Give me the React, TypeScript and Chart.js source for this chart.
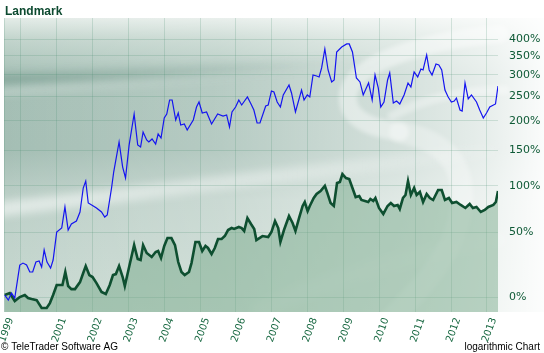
import { useEffect, useRef } from 'react';
import { Chart, registerables } from 'chart.js';

Chart.register(...registerables);

const TITLE = 'Landmark';
const CREDIT = '© TeleTrader Software AG';
const SCALE_NOTE = 'logarithmic Chart';

const X_START = 1999.53;
const X_END = 2013.31;
const xTickValues = [1999.53, 2000, 2001, 2002, 2003, 2004, 2005, 2006, 2007, 2008, 2009, 2010, 2011, 2012, 2013];
const xTickLabels = ['1999', '', '2001', '2002', '2003', '2004', '2005', '2006', '2007', '2008', '2009', '2010', '2011', '2012', '2013'];
const yTickPct = [0, 50, 100, 150, 200, 250, 300, 350, 400];
const Y_MIN_PCT = -8.9;
const Y_MAX_PCT = 470;

const blueDates = [1999.55,1999.65,1999.74,1999.83,1999.97,2000.06,2000.16,2000.25,2000.33,2000.42,
2000.51,2000.58,2000.65,2000.73,2000.83,2000.90,2001.00,2001.14,2001.23,2001.32,
2001.41,2001.55,2001.65,2001.74,2001.81,2001.88,2002.02,2002.11,2002.25,2002.34,
2002.41,2002.53,2002.59,2002.74,2002.84,2002.92,2003.02,2003.16,2003.26,2003.34,
2003.41,2003.51,2003.57,2003.66,2003.76,2003.83,2003.91,2004.00,2004.07,2004.15,
2004.22,2004.32,2004.39,2004.46,2004.56,2004.64,2004.81,2004.90,2004.97,2005.06,
2005.18,2005.32,2005.49,2005.64,2005.74,2005.82,2005.89,2005.99,2006.08,2006.16,
2006.32,2006.42,2006.50,2006.59,2006.67,2006.83,2006.90,2006.99,2007.06,2007.15,
2007.24,2007.32,2007.48,2007.55,2007.66,2007.83,2007.90,2007.99,2008.06,2008.15,
2008.25,2008.32,2008.39,2008.48,2008.57,2008.67,2008.74,2008.81,2008.95,2009.09,
2009.16,2009.25,2009.36,2009.46,2009.55,2009.70,2009.80,2009.88,2009.97,2010.04,
2010.13,2010.23,2010.29,2010.39,2010.48,2010.57,2010.69,2010.80,2010.88,2010.97,
2011.07,2011.16,2011.22,2011.32,2011.39,2011.47,2011.58,2011.66,2011.74,2011.83,
2011.92,2012.01,2012.09,2012.15,2012.25,2012.31,2012.39,2012.48,2012.57,2012.71,
2012.80,2012.90,2012.99,2013.08,2013.24,2013.31];

const bluePct = [1.3,-1.9,2.5,-0.6,22.1,23.6,22.1,16.9,16.9,24.4,
25.2,20.6,34.1,24.4,19.8,26.0,50.0,53.8,75.4,51.9,
57.7,60.7,70.0,97.4,106.2,79.8,76.5,74.3,70.0,64.7,
66.8,97.4,118.1,163.0,125.0,110.1,158,213.2,158.1,154.9,
180.0,166.3,163.0,168.0,159.8,176.5,169.7,205.5,213.2,241.8,
241.8,201.7,215.2,192.4,194.3,183.5,201.7,227.2,237.6,215.2,
217.2,194.3,213.2,209.3,211.3,188.8,217.2,227.2,241.8,231.3,
248.3,233.4,221.1,196.1,196.1,229.3,231.3,261.6,259.3,237.6,
227.2,252.7,275.4,257.1,217.2,263.8,241.8,252.7,248.3,299.5,
297.0,294.6,317.4,369.9,312.2,282.5,287.3,361.2,375.8,384.8,
384.8,361.2,292.1,282.5,252.7,280.1,241.8,299.5,268.4,227.2,
237.6,287.3,304.5,235.5,239.7,233.4,252.7,280.1,270.7,307.1,
294.6,314.8,312.2,352.7,312.2,299.5,327.9,325.2,312.2,263.8,
248.3,237.6,239.7,246.1,221.1,219.1,280.1,244.0,252.7,237.6,
221.1,205.5,215.2,227.2,233.4,273.0];

const greenDates = [1999.55,1999.69,1999.83,1999.97,2000.11,2000.20,2000.30,2000.44,2000.58,2000.72,
2000.81,2000.90,2001.00,2001.16,2001.24,2001.32,2001.41,2001.51,2001.65,2001.74,
2001.81,2001.91,2002.00,2002.11,2002.25,2002.37,2002.48,2002.57,2002.65,2002.74,
2002.84,2002.90,2003.02,2003.16,2003.26,2003.34,2003.41,2003.51,2003.65,2003.76,
2003.83,2003.91,2004.00,2004.09,2004.20,2004.30,2004.39,2004.48,2004.57,2004.69,
2004.76,2004.87,2004.97,2005.06,2005.15,2005.22,2005.32,2005.41,2005.50,2005.60,
2005.69,2005.78,2005.88,2005.95,2006.08,2006.16,2006.23,2006.32,2006.42,2006.51,
2006.57,2006.74,2006.90,2006.99,2007.09,2007.18,2007.24,2007.34,2007.48,2007.58,
2007.66,2007.76,2007.86,2007.92,2008.00,2008.06,2008.17,2008.25,2008.36,2008.48,
2008.54,2008.64,2008.73,2008.82,2008.90,2008.97,2009.07,2009.16,2009.25,2009.34,
2009.44,2009.50,2009.60,2009.69,2009.75,2009.83,2009.89,2009.99,2010.11,2010.23,
2010.32,2010.41,2010.51,2010.57,2010.66,2010.73,2010.80,2010.88,2010.97,2011.04,
2011.13,2011.22,2011.32,2011.41,2011.50,2011.64,2011.74,2011.83,2011.94,2012.03,
2012.15,2012.27,2012.40,2012.52,2012.61,2012.71,2012.83,2012.94,2013.04,2013.18,
2013.25,2013.31];

const greenPct = [1.3,2.5,-2.5,0,1.3,-0.6,-1.2,-1.9,-6.6,-6.6,
-3.7,1.3,7.8,7.8,16.9,7.1,5.1,5.1,9.8,16.2,
21.3,14.7,13.3,9.1,3.2,1.9,7.8,14.7,15.4,21.3,
13.3,7.1,20.6,38.3,26.8,26.0,38.3,31.6,28.4,32.4,
33.3,27.6,37.5,44.5,44.5,38.3,24.4,16.9,14.7,16.9,
23.6,41.0,41.0,33.3,37.5,35.8,30.8,35.8,43.6,43.6,
46.3,51.9,53.8,52.9,54.8,53.8,51.0,63.7,57.7,52.9,
42.7,46.3,45.4,50.0,60.7,53.8,41.0,51.9,65.8,58.7,
51.0,63.7,76.5,80.9,71.0,76.5,85.5,90.2,93.8,100,
92.6,79.8,76.5,103.7,105.0,115.4,110.1,108.8,97.4,86.6,
87.8,83.2,82.1,80.9,84.3,82.1,85.5,74.3,67.9,76.5,
79.8,76.5,77.6,73.2,85.5,89.0,106.2,89.0,97.4,89.0,
92.6,80.9,90.2,85.5,83.2,95.0,95.0,83.2,85.5,79.8,
80.9,77.6,74.3,78.7,74.3,75.4,70.0,72.1,75.4,77.6,
80.9,93.8];

const toPoints = (dates: number[], pct: number[]) =>
  dates.map((d, i) => ({ x: d, y: 1 + pct[i] / 100 }));

const backgroundPlugin = {
  id: 'ttBackground',
  beforeDraw(chart: any) {
    const { ctx, chartArea: a, width, height } = chart;
    const h = a.bottom - a.top;
    ctx.save();
    ctx.fillStyle = '#ffffff';
    ctx.fillRect(0, 0, width, height);

    ctx.beginPath();
    ctx.rect(a.left, a.top, width - a.left, h);
    ctx.clip();

    const vg = ctx.createLinearGradient(0, a.top, 0, a.bottom);
    vg.addColorStop(0, '#e4ece8');
    vg.addColorStop(0.07, '#c3d5cd');
    vg.addColorStop(0.2, '#a5bfb5');
    vg.addColorStop(0.45, '#a4beb4');
    vg.addColorStop(0.62, '#bdd0c8');
    vg.addColorStop(1, '#c8d9d1');
    ctx.fillStyle = vg;
    ctx.fillRect(a.left, a.top, width - a.left, h);

    const hg = ctx.createLinearGradient(a.left, 0, width, 0);
    hg.addColorStop(0, 'rgba(255,255,255,0)');
    hg.addColorStop(0.4, 'rgba(255,255,255,0.2)');
    hg.addColorStop(0.75, 'rgba(255,255,255,0.55)');
    hg.addColorStop(0.9, 'rgba(255,255,255,0.75)');
    hg.addColorStop(1, 'rgba(255,255,255,0.95)');
    ctx.fillStyle = hg;
    ctx.fillRect(a.left, a.top, width - a.left, h);

    ctx.filter = 'blur(4px)';
    const db = ctx.createLinearGradient(a.left, 0, 380, 0);
    db.addColorStop(0, 'rgba(80,125,110,0.35)');
    db.addColorStop(1, 'rgba(80,125,110,0)');
    ctx.strokeStyle = db;
    ctx.lineWidth = 10;
    ctx.beginPath();
    ctx.moveTo(a.left - 10, 80);
    ctx.quadraticCurveTo(200, 72, 380, 60);
    ctx.stroke();

    const ls = ctx.createLinearGradient(a.left, 0, 320, 0);
    ls.addColorStop(0, 'rgba(255,255,255,0.4)');
    ls.addColorStop(1, 'rgba(255,255,255,0)');
    ctx.strokeStyle = ls;
    ctx.lineWidth = 5;
    ctx.beginPath();
    ctx.moveTo(a.left - 10, 92);
    ctx.quadraticCurveTo(150, 84, 320, 70);
    ctx.stroke();

    const ms = ctx.createLinearGradient(a.left, 0, a.right, 0);
    ms.addColorStop(0, 'rgba(255,255,255,0.55)');
    ms.addColorStop(0.6, 'rgba(255,255,255,0.32)');
    ms.addColorStop(1, 'rgba(255,255,255,0.08)');
    ctx.strokeStyle = ms;
    ctx.lineWidth = 14;
    ctx.beginPath();
    ctx.moveTo(a.left - 10, 210);
    ctx.quadraticCurveTo(250, 180, a.right, 150);
    ctx.stroke();

    // S-like logo swoosh
    ctx.filter = 'blur(2px)';
    ctx.lineCap = 'round';
    ctx.strokeStyle = 'rgba(255,255,255,0.42)';
    ctx.lineWidth = 18;
    ctx.beginPath();
    ctx.moveTo(500, 34);
    ctx.bezierCurveTo(430, 40, 345, 62, 348, 100);
    ctx.bezierCurveTo(350, 125, 385, 130, 400, 132);
    ctx.stroke();
    ctx.strokeStyle = 'rgba(255,255,255,0.3)';
    ctx.lineWidth = 22;
    ctx.beginPath();
    ctx.moveTo(400, 132);
    ctx.bezierCurveTo(440, 140, 462, 160, 462, 195);
    ctx.bezierCurveTo(462, 245, 425, 285, 392, 318);
    ctx.stroke();
    ctx.lineWidth = 9;
    ctx.strokeStyle = 'rgba(255,255,255,0.32)';
    ctx.beginPath();
    ctx.moveTo(392, 116);
    ctx.quadraticCurveTo(440, 90, 505, 90);
    ctx.stroke();

    ctx.filter = 'blur(5px)';
    ctx.strokeStyle = 'rgba(255,255,255,0.14)';
    ctx.lineWidth = 18;
    ctx.beginPath();
    ctx.moveTo(260, 310);
    ctx.quadraticCurveTo(380, 258, 500, 240);
    ctx.stroke();
    ctx.filter = 'none';
    ctx.restore();
  },
  afterDraw(chart: any) {
    const { ctx, width, height, chartArea: a } = chart;
    ctx.save();
    ctx.fillStyle = '#0d4a30';
    ctx.font = 'bold 12px "Liberation Sans", Arial, sans-serif';
    ctx.textBaseline = 'alphabetic';
    ctx.textAlign = 'left';
    ctx.fillText(TITLE, a.left + 1, 15);
    ctx.fillStyle = '#000000';
    ctx.font = '10px "Liberation Sans", Arial, sans-serif';
    ctx.fillText(CREDIT, 1, height - 3);
    ctx.textAlign = 'right';
    ctx.fillText(SCALE_NOTE, width - 4, height - 3);
    ctx.restore();
  },
};

export default function App() {
  const canvasRef = useRef<HTMLCanvasElement | null>(null);

  useEffect(() => {
    const canvas = canvasRef.current;
    if (!canvas) return;
    const chart = new Chart(canvas, {
      type: 'line',
      data: {
        datasets: [
          {
            label: 'blue',
            data: toPoints(blueDates, bluePct),
            borderColor: '#1414f0',
            borderWidth: 1.2,
            pointRadius: 0,
            tension: 0,
            fill: false,
          },
          {
            label: 'Landmark',
            data: toPoints(greenDates, greenPct),
            borderColor: '#0e4f30',
            borderWidth: 2.6,
            pointRadius: 0,
            tension: 0,
            fill: 'start',
            backgroundColor: 'rgba(110,165,130,0.45)',
          },
        ],
      },
      options: {
        animation: false,
        responsive: true,
        maintainAspectRatio: false,
        devicePixelRatio: 1,
        layout: { padding: { left: 4, top: 18, right: 0, bottom: 0 } },
        plugins: {
          legend: { display: false },
          tooltip: { enabled: false },
          title: { display: false },
        },
        scales: {
          x: {
            type: 'linear',
            position: 'bottom',
            min: X_START,
            max: X_END,
            bounds: 'data',
            afterBuildTicks: (scale: any) => {
              scale.ticks = xTickValues.map((v) => ({ value: v }));
            },
            afterFit: (scale: any) => {
              scale.height = 41;
              scale.paddingLeft = 0;
              scale.paddingRight = 0;
            },
            grid: { color: 'rgba(70,140,110,0.2)', drawTicks: false, lineWidth: 1 },
            border: { display: false },
            ticks: {
              autoSkip: false,
              maxRotation: 70,
              minRotation: 70,
              padding: 4,
              labelOffset: 7,
              color: '#1b6a44',
              font: { family: '"DejaVu Sans", Verdana, sans-serif', size: 10 },
              callback: (_v: any, i: number) => xTickLabels[i],
            },
          },
          y: {
            type: 'logarithmic',
            position: 'right',
            min: 1 + Y_MIN_PCT / 100,
            max: 1 + Y_MAX_PCT / 100,
            bounds: 'data',
            afterBuildTicks: (scale: any) => {
              scale.ticks = yTickPct.map((p) => ({ value: 1 + p / 100 }));
            },
            afterFit: (scale: any) => {
              scale.width = 46;
              scale.paddingTop = 0;
              scale.paddingBottom = 0;
            },
            grid: { color: 'rgba(70,140,110,0.2)', drawTicks: false, lineWidth: 1 },
            border: { display: false },
            ticks: {
              padding: 11,
              color: '#0e5a36',
              font: { family: '"DejaVu Sans", Verdana, sans-serif', size: 11 },
              callback: (_v: any, i: number) => yTickPct[i] + '%',
            },
          },
        },
      },
      plugins: [backgroundPlugin],
    });
    return () => chart.destroy();
  }, []);

  return (
    <div style={{ position: 'absolute', left: 0, top: 0, width: 544, height: 353 }}>
      <canvas ref={canvasRef} />
    </div>
  );
}
